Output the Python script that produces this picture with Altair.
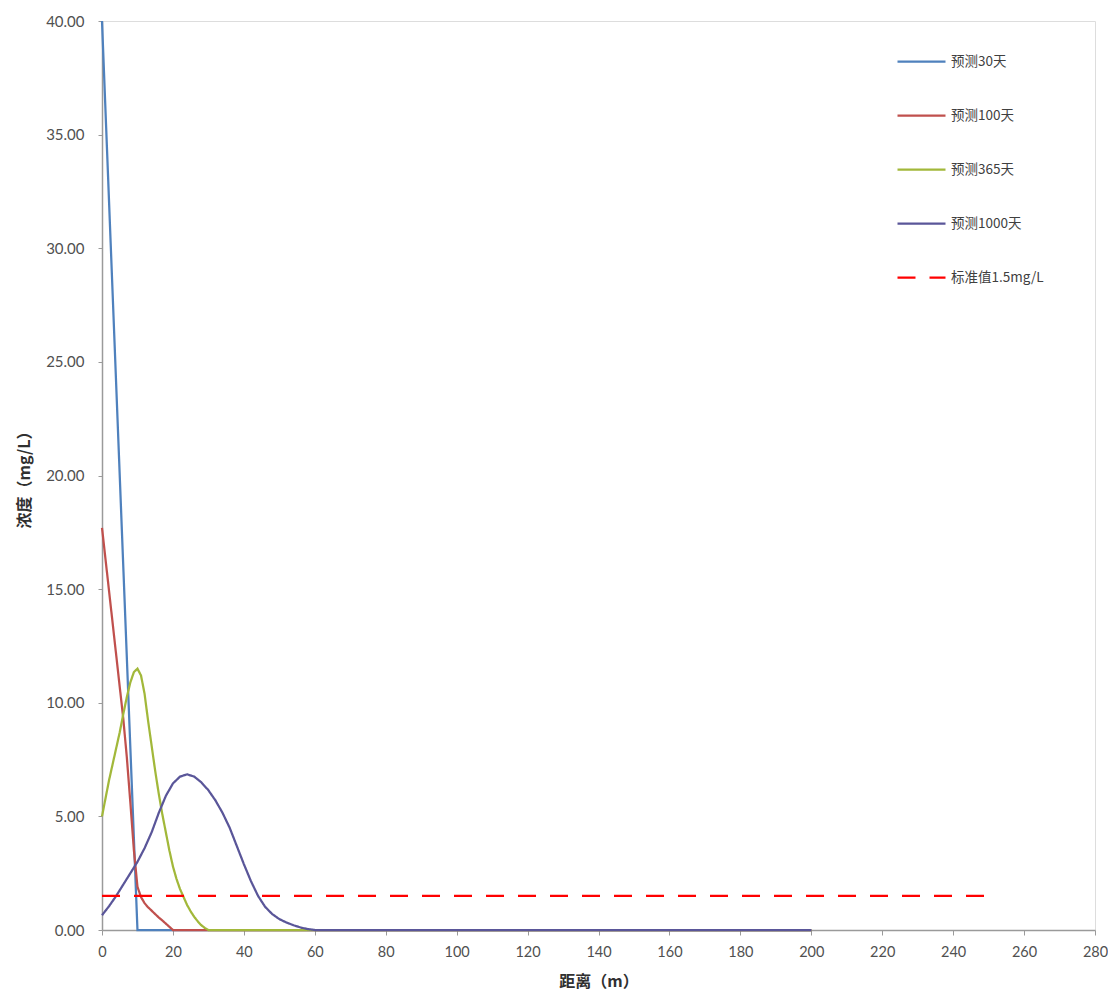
import altair as alt
import pandas as pd

# ---- data ----
series_names = ["预测30天", "预测100天", "预测365天", "预测1000天", "标准值1.5mg/L"]

x_30 = [0, 10, 20, 40, 60, 100, 150, 200]
y_30 = [40.0, 0, 0, 0, 0, 0, 0, 0]

x_100 = [0, 1, 2, 3, 4, 5, 6, 7, 8, 9, 10, 11, 12, 13, 14, 15, 16, 17, 18, 19, 20, 30, 60, 100, 200]
y_100 = [17.7, 16.3, 14.9, 13.5, 12.1, 10.7, 9.3, 7.6, 5.6, 3.5, 1.9, 1.45, 1.18, 1.0, 0.85, 0.7,
         0.55, 0.42, 0.28, 0.14, 0.0, 0, 0, 0, 0]

x_365 = [0, 1, 2, 3, 4, 5, 6, 7, 8, 9, 10, 11, 12, 13, 14, 15, 16, 17, 18, 19, 20,
         21, 22, 23, 24, 25, 26, 27, 28, 29, 30, 40, 60, 100, 200]
y_365 = [5.0, 5.8, 6.6, 7.3, 8.0, 8.7, 9.5, 10.25, 10.9, 11.35, 11.5, 11.2, 10.4, 9.2, 8.1, 7.0,
         6.0, 5.1, 4.3, 3.5, 2.8, 2.25, 1.8, 1.45, 1.1, 0.82, 0.58, 0.38, 0.21, 0.09, 0.0, 0, 0, 0, 0]

x_1000 = [0, 2, 4, 6, 8, 10, 12, 14, 16, 18, 20, 22, 24, 26, 28, 30, 32, 34, 36, 38, 40,
          42, 44, 46, 48, 50, 52, 54, 56, 58, 60, 80, 100, 120, 140, 160, 180, 200]
y_1000 = [0.65, 1.05, 1.5, 2.0, 2.5, 3.0, 3.6, 4.3, 5.15, 5.9, 6.45, 6.75, 6.85, 6.75, 6.5, 6.15,
          5.7, 5.15, 4.5, 3.7, 2.9, 2.15, 1.5, 1.02, 0.7, 0.48, 0.33, 0.21, 0.11, 0.04, 0.0,
          0, 0, 0, 0, 0, 0, 0]

x_std = [0, 250]
y_std = [1.5, 1.5]

colors = ["#4F81BD", "#C0504D", "#A2B83A", "#5A5699", "#FF0000"]
dashes = [[1, 0], [1, 0], [1, 0], [1, 0], [18, 14]]
widths = [2.25, 2.25, 2.25, 2.25, 4.5]

x_ticks = list(range(0, 281, 20))
y_ticks = list(range(0, 41, 5))

rows = []
for name, xs, ys in zip(series_names,
                        [x_30, x_100, x_365, x_1000, x_std],
                        [y_30, y_100, y_365, y_1000, y_std]):
    for i, (a, b) in enumerate(zip(xs, ys)):
        rows.append({"series": name, "x": a, "y": b, "i": i})
df = pd.DataFrame(rows)

label_font = "Lato"
cjk_font = "Noto Sans CJK SC"
axis_grey = "#9A9A9A"


def make_legend():
    return alt.Legend(title=None, orient="none", legendX=794, legendY=15,
                      symbolType="stroke", symbolSize=2304,
                      rowPadding=22, labelFont=cjk_font, labelFontSize=13.5,
                      labelColor="#404040", labelOffset=4, padding=0)


chart = alt.Chart(df).mark_line(interpolate="linear").encode(
    x=alt.X("x:Q",
            scale=alt.Scale(domain=[0, 280], nice=False, zero=False),
            axis=alt.Axis(values=x_ticks, title="距离（m）", grid=False,
                          domainColor=axis_grey, domainWidth=1.5,
                          tickColor=axis_grey, tickSize=5,
                          labelPadding=10, labelFlush=False, labelOverlap=False,
                          labelFont=label_font, labelFontSize=14.5, labelColor="#505050",
                          titleFont=cjk_font, titleFontSize=16, titleFontWeight="bold",
                          titleColor="#303030", titleBaseline="middle", titleY=51)),
    y=alt.Y("y:Q",
            scale=alt.Scale(domain=[0, 40], nice=False),
            axis=alt.Axis(values=y_ticks, format=".2f", title="浓度（mg/L）", grid=False,
                          domainColor=axis_grey, domainWidth=1.5,
                          tickColor=axis_grey, tickSize=4,
                          labelPadding=14, labelFlush=False, labelOverlap=False,
                          labelFont=label_font, labelFontSize=15, labelColor="#505050",
                          titleFont=cjk_font, titleFontSize=16, titleFontWeight="bold",
                          titleColor="#303030", titleBaseline="middle", titleX=-78)),
    color=alt.Color("series:N",
                    scale=alt.Scale(domain=series_names, range=colors),
                    legend=make_legend()),
    strokeDash=alt.StrokeDash("series:N",
                              scale=alt.Scale(domain=series_names, range=dashes),
                              legend=make_legend()),
    strokeWidth=alt.StrokeWidth("series:N",
                                scale=alt.Scale(domain=series_names, range=widths),
                                legend=make_legend()),
    order=alt.Order("i:Q"),
).properties(
    width=993,
    height=909,
    padding={"left": 94, "top": 13, "right": 13, "bottom": 60},
    autosize=alt.AutoSizeParams(type="none"),
).configure_view(stroke=None).configure(background="white")

chart.save("out.html", embed_options={"renderer": "svg", "actions": False})
